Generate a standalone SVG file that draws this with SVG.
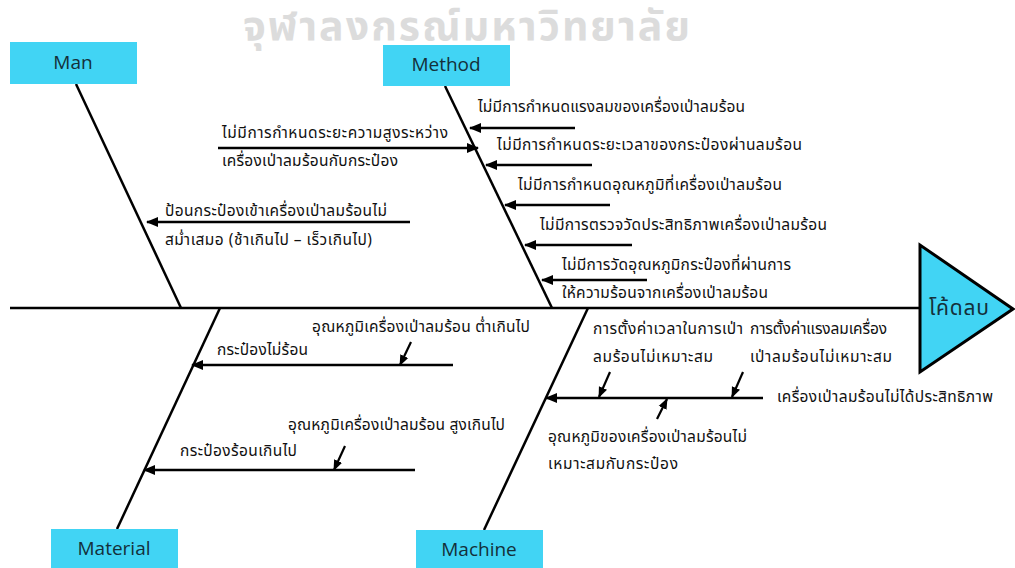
<svg xmlns="http://www.w3.org/2000/svg" width="1015" height="568" viewBox="0 0 1015 568">
  <defs>
    <marker id="ah" viewBox="0 0 10 10" refX="9" refY="5" markerWidth="5" markerHeight="5" orient="auto" markerUnits="strokeWidth">
      <path d="M0,1 L10,5 L0,9 z" fill="#000"/>
    </marker>
    <style>
      .bone { stroke:#000; stroke-width:2.5; fill:none; }
      .arr { stroke:#000; stroke-width:2.5; fill:none; marker-end:url(#ah); }
      .sub { stroke:#000; stroke-width:2.2; fill:none; marker-end:url(#ah); }
      .box { fill:#41D4F4; }
      .lbl { font-family:"Open Sans","Noto Sans",sans-serif; font-size:19px; fill:#14303a; text-anchor:middle; }
      .t { font-family:"Noto Sans","Noto Sans Thai","Tahoma",sans-serif; font-size:15.5px; fill:#111; }
      .wm { font-family:"Noto Sans","Noto Sans Thai",sans-serif; font-size:41px; font-weight:bold; fill:#dcdcdc; }
    </style>
  </defs>
  <rect width="1015" height="568" fill="#fff"/>

  <!-- background stamp -->
  <text class="wm" x="243" y="40" textLength="447" lengthAdjust="spacing">จุฬาลงกรณ์มหาวิทยาลัย</text>

  <!-- skeleton and cause arrows -->
  <g id="connectors">
    <line class="bone" x1="10" y1="308" x2="920" y2="308"/>
    <line class="bone" x1="76" y1="84" x2="181" y2="308"/>
    <line class="bone" x1="445" y1="86" x2="552" y2="308"/>
    <line class="bone" x1="220" y1="308" x2="117" y2="529"/>
    <line class="bone" x1="588" y1="308" x2="484" y2="530"/>

    <!-- Method -->
    <line class="arr" x1="575" y1="128" x2="470" y2="128"/>
    <line class="arr" x1="218" y1="148" x2="478" y2="148"/>
    <line class="arr" x1="592" y1="165" x2="486" y2="165"/>
    <line class="arr" x1="610" y1="205" x2="505" y2="205"/>
    <line class="arr" x1="632" y1="245" x2="525" y2="245"/>
    <line class="arr" x1="647" y1="280" x2="542" y2="280"/>

    <!-- Man -->
    <line class="arr" x1="410" y1="222" x2="147" y2="222"/>

    <!-- Material -->
    <line class="arr" x1="453" y1="365" x2="192" y2="365"/>
    <line class="sub" x1="411" y1="342" x2="400" y2="365"/>
    <line class="arr" x1="415" y1="470" x2="144" y2="470"/>
    <line class="sub" x1="345" y1="446" x2="334" y2="470"/>

    <!-- Machine -->
    <line class="arr" x1="763" y1="398" x2="546" y2="398"/>
    <line class="sub" x1="610" y1="372" x2="599" y2="397"/>
    <line class="sub" x1="743" y1="372" x2="732" y2="397"/>
    <line class="sub" x1="657" y1="419" x2="667" y2="399"/>
  </g>

  <g id="head">
    <polygon points="920,245 920,372 1013,309" fill="#41D4F4" stroke="#000" stroke-width="3" stroke-linejoin="miter"/>
    <text class="t" x="929" y="315" style="font-size:21px;fill:#14303a" textLength="60" lengthAdjust="spacing">โค้ดลบ</text>
  </g>

  <g id="man">
    <rect class="box" x="10" y="42" width="127" height="42"/>
    <text class="lbl" x="73" y="69">Man</text>
    <text class="t" x="222" y="138" textLength="226" lengthAdjust="spacing">ไม่มีการกำหนดระยะความสูงระหว่าง</text>
    <text class="t" x="222" y="166" textLength="176" lengthAdjust="spacing">เครื่องเป่าลมร้อนกับกระป๋อง</text>
    <text class="t" x="165" y="216" textLength="222" lengthAdjust="spacing">ป้อนกระป๋องเข้าเครื่องเป่าลมร้อนไม่</text>
    <text class="t" x="165" y="245" textLength="207" lengthAdjust="spacing">สม่ำเสมอ (ช้าเกินไป – เร็วเกินไป)</text>
  </g>

  <g id="method">
    <rect class="box" x="383" y="45" width="127" height="41"/>
    <text class="lbl" x="446" y="71">Method</text>
    <text class="t" x="478" y="112" textLength="267" lengthAdjust="spacing">ไม่มีการกำหนดแรงลมของเครื่องเป่าลมร้อน</text>
    <text class="t" x="497" y="150" textLength="305" lengthAdjust="spacing">ไม่มีการกำหนดระยะเวลาของกระป๋องผ่านลมร้อน</text>
    <text class="t" x="518" y="190" textLength="264" lengthAdjust="spacing">ไม่มีการกำหนดอุณหภูมิที่เครื่องเป่าลมร้อน</text>
    <text class="t" x="540" y="230" textLength="287" lengthAdjust="spacing">ไม่มีการตรวจวัดประสิทธิภาพเครื่องเป่าลมร้อน</text>
    <text class="t" x="562" y="270" textLength="229" lengthAdjust="spacing">ไม่มีการวัดอุณหภูมิกระป๋องที่ผ่านการ</text>
    <text class="t" x="562" y="298" textLength="206" lengthAdjust="spacing">ให้ความร้อนจากเครื่องเป่าลมร้อน</text>
  </g>

  <g id="material">
    <rect class="box" x="51" y="529" width="127" height="39"/>
    <text class="lbl" x="114" y="555">Material</text>
    <text class="t" x="312" y="332" textLength="218" lengthAdjust="spacing">อุณหภูมิเครื่องเป่าลมร้อน ต่ำเกินไป</text>
    <text class="t" x="217" y="355" textLength="91" lengthAdjust="spacing">กระป๋องไม่ร้อน</text>
    <text class="t" x="288" y="430" textLength="217" lengthAdjust="spacing">อุณหภูมิเครื่องเป่าลมร้อน สูงเกินไป</text>
    <text class="t" x="180" y="456" textLength="117" lengthAdjust="spacing">กระป๋องร้อนเกินไป</text>
  </g>

  <g id="machine">
    <rect class="box" x="416" y="530" width="127" height="38"/>
    <text class="lbl" x="479" y="556">Machine</text>
    <text class="t" x="593" y="334" textLength="150" lengthAdjust="spacing">การตั้งค่าเวลาในการเป่า</text>
    <text class="t" x="593" y="362" textLength="120" lengthAdjust="spacing">ลมร้อนไม่เหมาะสม</text>
    <text class="t" x="750" y="334" textLength="137" lengthAdjust="spacing">การตั้งค่าแรงลมเครื่อง</text>
    <text class="t" x="750" y="362" textLength="142" lengthAdjust="spacing">เป่าลมร้อนไม่เหมาะสม</text>
    <text class="t" x="777" y="402" textLength="216" lengthAdjust="spacing">เครื่องเป่าลมร้อนไม่ได้ประสิทธิภาพ</text>
    <text class="t" x="548" y="442" textLength="199" lengthAdjust="spacing">อุณหภูมิของเครื่องเป่าลมร้อนไม่</text>
    <text class="t" x="548" y="469" textLength="130" lengthAdjust="spacing">เหมาะสมกับกระป๋อง</text>
  </g>
</svg>
